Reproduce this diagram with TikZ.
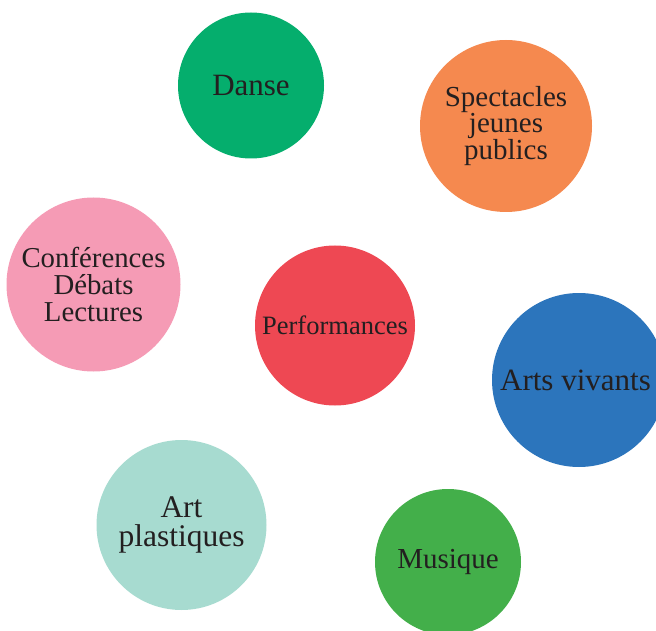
\documentclass[tikz,border=0pt]{standalone}
\usepackage{fontspec}
\setmainfont{Liberation Serif}
\usepackage{tikz}

\definecolor{dansegreen}{HTML}{05AE6D}
\definecolor{jeuneorange}{HTML}{F5894F}
\definecolor{confpink}{HTML}{F59BB5}
\definecolor{perfred}{HTML}{EE4853}
\definecolor{vivantblue}{HTML}{2C75BC}
\definecolor{plastteal}{HTML}{A7DBD0}
\definecolor{musiqgreen}{HTML}{43AF4A}
\definecolor{inkgray}{HTML}{231F20}

\tikzset{
  bubble/.style={circle, inner sep=0pt, align=center, text=inkgray,
    font=\fontsize{29}{26.5}\selectfont},
}

\begin{document}
\begin{tikzpicture}[x=1pt,y=1pt,yscale=-1,xscale=1]
\useasboundingbox (0,0) rectangle (656,631);
\clip (0,0) rectangle (656,631);
% Circle Nodes
\node (danse) [bubble, fill=dansegreen, minimum size=146pt, font=\fontsize{31}{29}\selectfont] at (251,85.5) {Danse};
% Circle Nodes
\node (jeunes) [bubble, fill=jeuneorange, minimum size=172pt] at (506,126) {Spectacles\\jeunes\\publics};
% Circle Nodes
\node (conf) [bubble, fill=confpink, minimum size=174pt, font=\fontsize{28.8}{27}\selectfont] at (93.5,284.5) {Conférences\\Débats\\Lectures};
% Circle Nodes
\node (perf) [bubble, fill=perfred, minimum size=160pt, font=\fontsize{26.5}{26}\selectfont] at (335,325.5) {Performances};
% Circle Nodes
\node (vivants) [bubble, fill=vivantblue, minimum size=174pt] at (579,380) {};
\node (vivantstext) [bubble, font=\fontsize{31}{29}\selectfont] at (575.5,380) {Arts vivants};
% Circle Nodes
\node (plast) [bubble, fill=plastteal, minimum size=170pt, font=\fontsize{31.5}{29}\selectfont] at (181.5,525) {Art\\plastiques};
% Circle Nodes
\node (musique) [bubble, fill=musiqgreen, minimum size=146pt] at (448,562) {Musique};
\end{tikzpicture}
\end{document}
